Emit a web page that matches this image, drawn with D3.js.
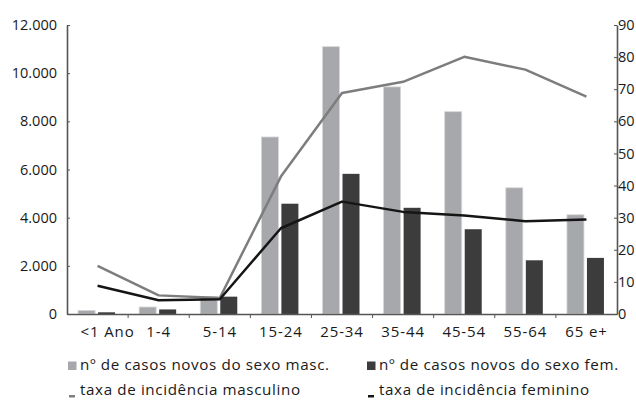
<!DOCTYPE html>
<html>
<head>
<meta charset="utf-8">
<script src="https://cdn.jsdelivr.net/npm/d3@7"></script>
<style>
  html, body { margin: 0; padding: 0; background: #fff; }
  svg { display: block; }
  text { font-family: "Open Sans", "Noto Sans", sans-serif; fill: #1a1a1a; }
</style>
</head>
<body>
<svg id="chart" width="636" height="401"></svg>
<script>
// Age groups
const categories = ["<1 Ano", "1-4", "5-14", "15-24", "25-34", "35-44", "45-54", "55-64", "65 e+"];
// New cases (left axis)
const maleCases   = [150, 290, 720, 7350, 11100, 9430, 8400, 5240, 4120];
const femaleCases = [70, 190, 720, 4580, 5820, 4410, 3520, 2230, 2330];
// Incidence rate (right axis)
const maleRate   = [15.0, 5.8, 5.0, 42.8, 68.8, 72.3, 80.1, 76.1, 67.7];
const femaleRate = [8.8, 4.3, 4.6, 26.7, 35.0, 31.8, 30.7, 28.9, 29.4];
// Tick values
const leftTicks  = [0, 2000, 4000, 6000, 8000, 10000, 12000];
const rightTicks = [0, 10, 20, 30, 40, 50, 60, 70, 80, 90];
// Legend labels
const legendLabels = [
  "nº de casos novos do sexo masc.",
  "nº de casos novos do sexo fem.",
  "taxa de incidência masculino",
  "taxa de incidência feminino"
];

const colors = { maleBar: "#a7a8ab", femaleBar: "#3c3c3c", maleLine: "#7d7d7d", femaleLine: "#151515", axis: "#555" };

const svg = d3.select("#chart");
const plotLeft = 67, plotRight = 617, plotTop = 25, plotBottom = 314;

const x = d3.scaleBand().domain(categories).range([plotLeft, plotRight]).padding(0);
const yL = d3.scaleLinear().domain([0, 12000]).range([plotBottom, plotTop]);
const yR = d3.scaleLinear().domain([0, 90]).range([plotBottom, plotTop]);

const fmt = d => d3.format(",")(d).replace(/,/g, ".");
const cx = c => x(c) + x.bandwidth() / 2;

// Bars
const barW = 17;
svg.append("g").selectAll("rect").data(categories).join("rect")
  .attr("x", c => cx(c) - 19.5)
  .attr("width", barW)
  .attr("y", (c, i) => yL(maleCases[i]))
  .attr("height", (c, i) => plotBottom - yL(maleCases[i]))
  .attr("fill", colors.maleBar)
  .attr("stroke", "#d6d6d8").attr("stroke-width", 0.8);

svg.append("g").selectAll("rect").data(categories).join("rect")
  .attr("x", c => cx(c) + 0.5)
  .attr("width", barW)
  .attr("y", (c, i) => yL(femaleCases[i]))
  .attr("height", (c, i) => plotBottom - yL(femaleCases[i]))
  .attr("fill", colors.femaleBar);

// Rate lines
const line = arr => d3.line().x((c, i) => cx(c)).y((c, i) => yR(arr[i]))(categories);
svg.append("path").attr("d", line(maleRate)).attr("fill", "none")
  .attr("stroke", colors.maleLine).attr("stroke-width", 2.5).attr("stroke-linejoin", "round");
svg.append("path").attr("d", line(femaleRate)).attr("fill", "none")
  .attr("stroke", colors.femaleLine).attr("stroke-width", 2.5).attr("stroke-linejoin", "round");

// Axes
const styleAxis = g => {
  g.select(".domain").attr("stroke", colors.axis).attr("stroke-width", 1.6);
  g.selectAll(".tick line").attr("stroke", colors.axis).attr("stroke-width", 1);
  g.selectAll(".tick text").attr("fill", "#1a1a1a").style("font-size", "14.5px")
    .style("font-family", "'Open Sans', 'Noto Sans', sans-serif");
};

svg.append("g").attr("transform", `translate(${plotLeft},0)`)
  .call(d3.axisRight(yL).tickValues(leftTicks).tickSize(3).tickSizeOuter(0).tickFormat(fmt))
  .call(g => g.selectAll(".tick text").attr("x", -10).attr("text-anchor", "end"))
  .call(styleAxis);

svg.append("g").attr("transform", `translate(${plotRight},0)`)
  .call(d3.axisLeft(yR).tickValues(rightTicks).tickSize(3).tickSizeOuter(0))
  .call(g => g.selectAll(".tick text").attr("x", 1).attr("text-anchor", "start"))
  .call(styleAxis);

const xAxis = svg.append("g").attr("transform", `translate(0,${plotBottom})`)
  .call(d3.axisBottom(x).tickSize(0).tickSizeOuter(0));
xAxis.call(styleAxis);
xAxis.selectAll(".tick text").attr("y", 12).attr("dy", "0.71em")
  .style("font-size", "15px").style("letter-spacing", "0.9px")
  .attr("dx", d => d === "<1 Ano" ? 10 : 0);
// Boundary ticks between groups
xAxis.selectAll(".sep").data(categories.slice(1)).join("line")
  .attr("x1", c => x(c)).attr("x2", c => x(c)).attr("y1", 0).attr("y2", 4)
  .attr("stroke", colors.axis).attr("stroke-width", 1);

// Legend
const legend = svg.append("g").style("font-size", "15.2px").style("letter-spacing", "0.62px");
const items = [
  { label: legendLabels[0], color: colors.maleBar,   kind: "box",  x: 68,  y: 370 },
  { label: legendLabels[1], color: colors.femaleBar, kind: "box",  x: 367, y: 370 },
  { label: legendLabels[2], color: colors.maleLine,  kind: "dash", x: 68,  y: 395 },
  { label: legendLabels[3], color: colors.femaleLine,kind: "dash", x: 367, y: 395 }
];
items.forEach(it => {
  if (it.kind === "box") {
    legend.append("rect").attr("x", it.x).attr("y", it.y - 8.5).attr("width", 8.5).attr("height", 8.5).attr("fill", it.color);
  } else {
    legend.append("rect").attr("x", it.x + 1).attr("y", it.y).attr("width", 6).attr("height", 2.5).attr("fill", it.color);
  }
  legend.append("text").attr("x", it.x + 12).attr("y", it.y).text(it.label);
});
</script>
</body>
</html>
